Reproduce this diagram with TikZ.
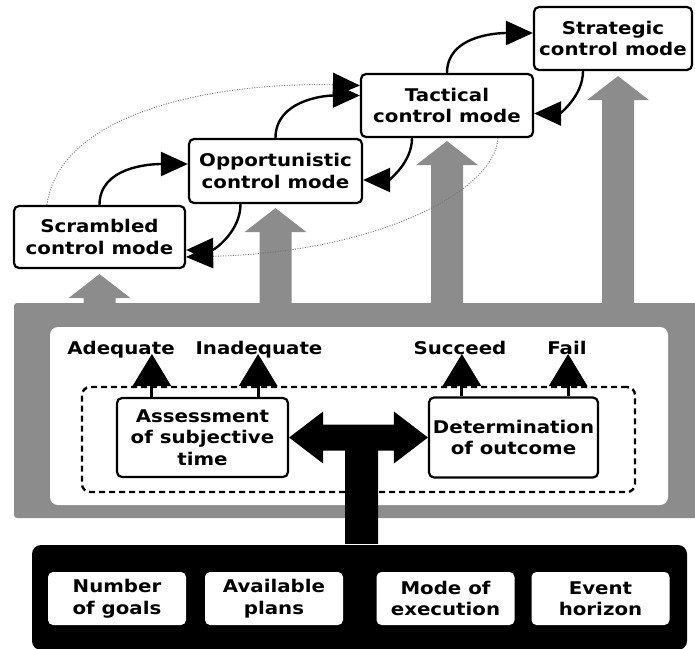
\documentclass[tikz,border=0pt]{standalone}
\usepackage{fontspec}
\setmainfont[FakeStretch=1.13]{DejaVu Sans}
\usetikzlibrary{arrows.meta,calc}
\definecolor{frameg}{gray}{0.55}
\newcommand{\grayup}[2]{%
  \path let \p1=($(#1)+(#2,0)$) in [fill=frameg]
    (\x1,\y1) -- (\x1+31pt,\y1-24pt) -- (\x1+16pt,\y1-24pt) -- (\x1+16pt,-305pt)
    -- (\x1-16pt,-305pt) -- (\x1-16pt,\y1-24pt) -- (\x1-31pt,\y1-24pt) -- cycle;}
\begin{document}
\begin{tikzpicture}[x=1pt,y=1pt,
  every node/.style={font=\fontsize{17.5}{21.5}\selectfont\bfseries},
  mbox/.style={draw, line width=2.2pt, rounded corners=5pt, fill=white, align=center, inner sep=0pt},
  pbox/.style={fill=white, rounded corners=5pt, align=center, inner sep=0pt, minimum width=138pt, minimum height=53pt},
  dashbox/.style={draw, line width=2.4pt, dash pattern=on 6pt off 4pt, rounded corners=8pt, inner sep=0pt},
  lbl/.style={inner sep=0pt, anchor=base},
  cyc/.style={line width=2.4pt, -{Triangle[length=27pt,width=24pt]}},
  dotc/.style={line width=0.9pt, draw=black!55, dash pattern=on 1pt off 1.5pt, -{Triangle[length=27pt,width=24pt,color=black]}},
  uparr/.style={line width=3pt, -{Triangle[length=32pt,width=38pt]}}
]
\useasboundingbox (0,0) rectangle (695,-648);

% gray frame
\fill[frameg, rounded corners=3pt] (14,-303) rectangle (697,-518);
\fill[white, rounded corners=8pt] (50,-327) rectangle (668,-505);

% mode boxes
\node[mbox, minimum width=171pt, minimum height=62pt] (scr) at (99.5,-237) {Scrambled\\control mode};
\node[mbox, minimum width=173pt, minimum height=64pt] (opp) at (275.5,-171) {Opportunistic\\control mode};
\node[mbox, minimum width=172pt, minimum height=63pt] (tac) at (447,-105.5) {Tactical\\control mode};
\node[mbox, minimum width=158pt, minimum height=63pt] (str) at (613,-38.5) {Strategic\\control mode};

% gray upward arrows
\coordinate (gs) at ($(scr.south)+(0,-5)$);
\coordinate (go) at ($(opp.south)+(0,-4)$);
\coordinate (gt) at ($(tac.south)+(0,-3)$);
\coordinate (gg) at ($(str.south)+(0,-5)$);
\grayup{gs}{0}
\grayup{go}{0}
\grayup{gt}{0}
\grayup{gg}{5}

% dotted long arcs
\draw[dotc] ($(scr.north west)+(34,0)$) .. controls (60,-110) and (220,-82) .. ($(tac.west)+(0,20)$);
\draw[dotc] ($(tac.south)+(51,0)$) .. controls (495,-190) and (380,-252) .. ($(scr.east)+(0,-20)$);

% solid cycle arrows
\draw[cyc] (scr.north) to[out=90,in=180] ($(opp.west)+(0,7)$);
\draw[cyc] (opp.north) to[out=90,in=180] ($(tac.west)+(0,10)$);
\draw[cyc] (tac.north) to[out=90,in=180] ($(str.west)+(0,5.5)$);
\draw[cyc] ($(str.south)+(-30,0)$) to[out=-90,in=0] ($(tac.east)+(0,-8)$);
\draw[cyc] ($(tac.south)+(-35,0)$) to[out=-90,in=0] ($(opp.east)+(0,-9)$);
\draw[cyc] ($(opp.south)+(-35,0)$) to[out=-90,in=0] ($(scr.east)+(0,-13)$);

% inner group
\node[dashbox, minimum width=553pt, minimum height=105pt] (grp) at (358.5,-439.5) {};
\node[mbox, minimum width=171pt, minimum height=79pt] (assess) at (202.5,-437.5) {Assessment\\of subjective\\time};
\node[mbox, minimum width=169pt, minimum height=80pt] (determ) at (513.5,-437.5) {Determination\\of outcome};

% labels
\node[lbl] (adeq) at (121,-354) {Adequate};
\node[lbl] (inadeq) at (259,-354) {Inadequate};
\node[lbl] (succ) at (460,-354) {Succeed};
\node[lbl] (fail) at (567,-354) {Fail};

\coordinate (a1) at ($(assess.north west)+(36,0)$);
\coordinate (a2) at ($(assess.north east)+(-31,0)$);
\coordinate (a3) at ($(determ.north west)+(34,0)$);
\coordinate (a4) at ($(determ.north east)+(-31,0)$);
\draw[uparr] (a1) -- (a1 |- adeq.base);
\draw[uparr] (a2) -- (a2 |- inadeq.base);
\draw[uparr] (a3) -- (a3 |- succ.base);
\draw[uparr] (a4) -- (a4 |- fail.base);

% bottom black box
\node[fill=black, rounded corners=9pt, minimum width=655pt, minimum height=105pt, inner sep=0pt] (params) at (359.5,-597.5) {};
\node[pbox] (ng) at (117,-598.5) {Number\\of goals};
\node[pbox] (ap) at (274,-598.5) {Available\\plans};
\node[pbox] (me) at (445.5,-598.5) {Mode of\\execution};
\node[pbox] (eh) at (600.5,-598.5) {Event\\horizon};

% black T double arrow
\coordinate (tl) at (assess.east);
\coordinate (tr) at (determ.west);
\coordinate (sl) at ($(params.north)+(-14.5,0)$);
\coordinate (sr) at ($(params.north)+(18.5,0)$);
\coordinate (bb) at ($(tl)+(0,-13)$);
\fill[black] (tl) -- ($(tl)+(34,26)$) -- ($(tl)+(34,13)$) -- ($(tr)+(-34,13)$)
  -- ($(tr)+(-34,26)$) -- (tr) -- ($(tr)+(-34,-26)$) -- ($(tr)+(-34,-13)$)
  -- (sr |- bb) -- ($(sr)+(0,1)$) -- ($(sl)+(0,1)$) -- (sl |- bb)
  -- ($(tl)+(34,-13)$) -- ($(tl)+(34,-26)$) -- cycle;
\end{tikzpicture}
\end{document}
